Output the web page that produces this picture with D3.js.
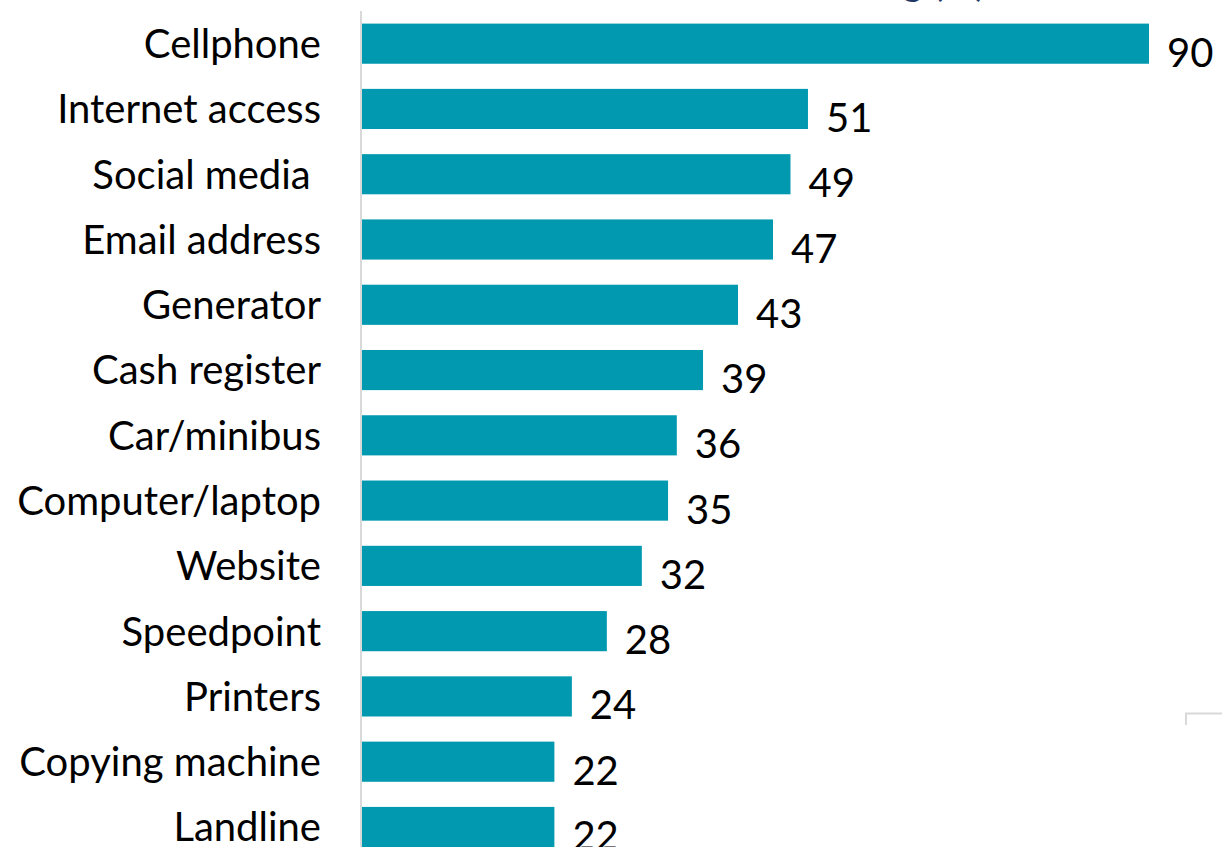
<!DOCTYPE html>
<html>
<head>
<meta charset="utf-8">
<script src="https://cdn.jsdelivr.net/npm/d3@7"></script>
<style>
  html, body { margin: 0; padding: 0; background: #ffffff; }
  svg { display: block; }
</style>
</head>
<body>
<svg id="chart" width="1222" height="847"></svg>
<script>
// Share of businesses using each item (%)
const categories = [
  "Cellphone", "Internet access", "Social media ", "Email address", "Generator",
  "Cash register", "Car/minibus", "Computer/laptop", "Website", "Speedpoint",
  "Printers", "Copying machine", "Landline"
];
const values = [90, 51, 49, 47, 43, 39, 36, 35, 32, 28, 24, 22, 22];

const titleBold = "Items used at the business in trading";
const titleUnit = " (%)";

const width = 1222, height = 847;
const barColor = "#0099b0";
const labelFont = "Lato, 'Open Sans', sans-serif";

const svg = d3.select("#chart");

const x = d3.scaleLinear().domain([0, 90]).range([362, 1149]);
const y = d3.scaleBand()
  .domain(categories)
  .range([11.2, 11.2 + 65.25 * categories.length])
  .paddingInner(0.385)
  .paddingOuter(0.19);

// Title sits above the visible area; only its lowest strokes show
svg.append("text")
  .attr("x", 986)
  .attr("y", -4)
  .attr("text-anchor", "end")
  .attr("font-family", labelFont)
  .attr("fill", "#1f3864")
  .call(t => {
    t.append("tspan").attr("font-weight", "bold").attr("font-size", 36).text(titleBold);
    t.append("tspan").attr("font-size", 40).text(titleUnit);
  });

// Bars
svg.append("g")
  .selectAll("rect")
  .data(categories)
  .join("rect")
  .attr("x", x(0))
  .attr("y", d => y(d))
  .attr("width", (d, i) => x(values[i]) - x(0))
  .attr("height", y.bandwidth())
  .attr("fill", barColor);

// Category axis on the left
const yAxis = d3.axisLeft(y).tickSize(0).tickPadding(40);
const gAxis = svg.append("g")
  .attr("transform", `translate(${x(0) - 1},0)`)
  .call(yAxis);
gAxis.select(".domain").remove();
gAxis.selectAll("text")
  .attr("font-family", labelFont)
  .attr("font-size", 40)
  .attr("fill", "#000")
  .attr("dy", "0.36em")
  .style("white-space", "pre");

// Axis line
svg.append("line")
  .attr("x1", 361).attr("x2", 361)
  .attr("y1", 11).attr("y2", height)
  .attr("stroke", "#d9d9d9")
  .attr("stroke-width", 2);

// Value labels
svg.append("g")
  .selectAll("text")
  .data(categories)
  .join("text")
  .attr("x", (d, i) => x(values[i]) + 18)
  .attr("y", d => y(d) + y.bandwidth() + 3)
  .attr("font-family", labelFont)
  .attr("font-size", 40)
  .attr("fill", "#000")
  .text((d, i) => values[i]);

// Corner of a frame at the lower right
svg.append("path")
  .attr("d", "M1186,725 V713.5 H1222")
  .attr("fill", "none")
  .attr("stroke", "#d9d9d9")
  .attr("stroke-width", 2);
</script>
</body>
</html>
